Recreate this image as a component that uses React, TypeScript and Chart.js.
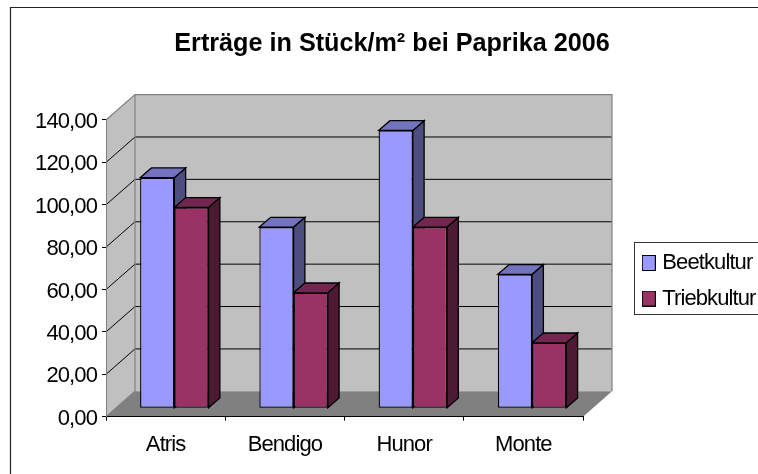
import React, { useEffect, useRef } from "react";
import { Chart, registerables } from "chart.js";

Chart.register(...registerables);

const categories = ["Atris", "Bendigo", "Hunor", "Monte"];
const seriesNames = ["Beetkultur", "Triebkultur"];
const beetkultur = [108.8, 85.5, 131.1, 63.2];
const triebkultur = [94.8, 54.5, 85.5, 30.9];
const yTicks = [0, 20, 40, 60, 80, 100, 120, 140];

const FONT = "'Liberation Sans', Arial, sans-serif";
const WALL_DX = 29;
const WALL_DY = -25.4;
const BAR_SHIFT_X = 8.7;
const BAR_SHIFT_Y = -8.4;
const BAR_DX = 11.3;
const BAR_DY = -9.8;
const fronts = ["#9999FF", "#993366"];
const faces = [
  { top: "#7373BF", side: "#4D4D80" },
  { top: "#732650", side: "#4D1A33" },
];

function poly(ctx: CanvasRenderingContext2D, pts: number[][], fill: string | null, stroke: string | null, lw = 1) {
  ctx.beginPath();
  pts.forEach((p, i) => (i ? ctx.lineTo(p[0], p[1]) : ctx.moveTo(p[0], p[1])));
  ctx.closePath();
  if (fill) {
    ctx.fillStyle = fill;
    ctx.fill();
  }
  if (stroke) {
    ctx.strokeStyle = stroke;
    ctx.lineWidth = lw;
    ctx.stroke();
  }
}

function swatch(color: string) {
  const c = document.createElement("canvas");
  c.width = 14;
  c.height = 16;
  const x = c.getContext("2d") as CanvasRenderingContext2D;
  x.fillStyle = color;
  x.fillRect(0.5, 0.5, 13, 15);
  x.strokeStyle = "#000";
  x.lineWidth = 1;
  x.strokeRect(0.5, 0.5, 13, 15);
  return c;
}

const scene3d = {
  id: "scene3d",
  afterLayout(chart: any) {
    const lg = chart.legend;
    lg.left = 632.8;
    lg.right = 790;
    lg.top = 238.5;
    lg.bottom = 474;
    const tb = chart.titleBlock;
    tb.left = 26;
    tb.right = 758;
    if (!tb.__wrapped) {
      tb.__wrapped = true;
      const draw = tb.draw.bind(tb);
      tb.draw = (...a: any[]) => {
        const ctx: any = chart.ctx;
        const prev = ctx.letterSpacing;
        ctx.letterSpacing = "0px";
        draw(...a);
        ctx.letterSpacing = prev;
      };
    }
  },
  beforeDraw(chart: any) {
    const ctx: any = chart.ctx;
    const { left, right, top, bottom } = chart.chartArea;
    const y = chart.scales.y;
    ctx.letterSpacing = "-0.9px";
    ctx.save();
    ctx.fillStyle = "#fff";
    ctx.fillRect(0, 0, chart.width, chart.height);
    // outer frame
    ctx.strokeStyle = "#222";
    ctx.lineWidth = 1.2;
    ctx.beginPath();
    ctx.moveTo(10.5, 474);
    ctx.lineTo(10.5, 7.5);
    ctx.lineTo(758, 7.5);
    ctx.stroke();
    // walls
    const dx = WALL_DX, dy = WALL_DY;
    poly(ctx, [[left + dx, top + dy], [right + dx, top + dy], [right + dx, bottom + dy], [left + dx, bottom + dy]], "#C0C0C0", null);
    poly(ctx, [[left, top], [left + dx, top + dy], [left + dx, bottom + dy], [left, bottom]], "#C0C0C0", null);
    poly(ctx, [[left, bottom], [left + dx, bottom + dy], [right + dx, bottom + dy], [right, bottom]], "#808080", null);
    // grid lines through the value scale
    yTicks.forEach((v) => {
      if (v === 0 || v === 140) return;
      const py = y.getPixelForValue(v);
      ctx.strokeStyle = "#000";
      ctx.lineWidth = 1;
      ctx.beginPath();
      ctx.moveTo(left, py);
      ctx.lineTo(left + dx, py + dy);
      ctx.lineTo(right + dx, py + dy);
      ctx.stroke();
    });
    // wall outlines
    ctx.strokeStyle = "#808080";
    ctx.lineWidth = 1.2;
    ctx.beginPath();
    ctx.moveTo(left, top);
    ctx.lineTo(left + dx, top + dy);
    ctx.lineTo(right + dx, top + dy);
    ctx.lineTo(right + dx, bottom + dy);
    ctx.moveTo(left + dx, top + dy);
    ctx.lineTo(left + dx, bottom + dy);
    ctx.lineTo(left, bottom);
    ctx.stroke();
    // legend frame
    ctx.fillStyle = "#fff";
    ctx.fillRect(634.5, 242.5, 130, 72);
    ctx.strokeStyle = "#333";
    ctx.lineWidth = 1;
    ctx.strokeRect(634.5, 242.5, 130, 72);
    ctx.restore();
  },
  beforeDatasetsDraw(chart: any) {
    const ctx: CanvasRenderingContext2D = chart.ctx;
    ctx.save();
    ctx.translate(BAR_SHIFT_X, BAR_SHIFT_Y);
    categories.forEach((_, i) => {
      chart.data.datasets.forEach((_d: any, di: number) => {
        const bar = chart.getDatasetMeta(di).data[i];
        const l = bar.x - bar.width / 2;
        const r = bar.x + bar.width / 2;
        const t = bar.y;
        const b = bar.base;
        poly(ctx, [[r, t], [r + BAR_DX, t + BAR_DY], [r + BAR_DX, b + BAR_DY], [r, b]], faces[di].side, "#000", 1.3);
        poly(ctx, [[l, t], [l + BAR_DX, t + BAR_DY], [r + BAR_DX, t + BAR_DY], [r, t]], faces[di].top, "#000", 1.3);
      });
    });
  },
  afterDatasetsDraw(chart: any) {
    chart.ctx.restore();
  },
};

export default function App() {
  const ref = useRef<HTMLCanvasElement>(null);
  useEffect(() => {
    const chart = new Chart(ref.current as HTMLCanvasElement, {
      type: "bar",
      data: {
        labels: categories,
        datasets: [
          { label: seriesNames[0], data: beetkultur, backgroundColor: fronts[0] },
          { label: seriesNames[1], data: triebkultur, backgroundColor: fronts[1] },
        ].map((d) => ({ ...d, borderColor: "#000", borderWidth: 1.3, borderSkipped: false, clip: false as any })),
      },
      plugins: [scene3d],
      options: {
        animation: false,
        responsive: false,
        events: [],
        layout: { autoPadding: false, padding: { left: 0, right: 175, top: 0, bottom: 0 } },
        datasets: { bar: { categoryPercentage: 0.574, barPercentage: 1 } },
        plugins: {
          tooltip: { enabled: false },
          title: {
            display: true,
            text: "Erträge in Stück/m² bei Paprika 2006",
            color: "#000",
            font: { family: FONT, size: 25.2, weight: "bold", lineHeight: 1.2 },
            padding: { top: 29, bottom: 60.76 },
          },
          legend: {
            position: "chartArea",
            align: "start",
            labels: {
              usePointStyle: true,
              pointStyleWidth: 5,
              padding: 13.5,
              color: "#000",
              font: { family: FONT, size: 22 },
              generateLabels: (c: any) =>
                c.data.datasets.map((d: any, i: number) => ({
                  text: d.label,
                  datasetIndex: i,
                  fontColor: "#000",
                  pointStyle: swatch(fronts[i]),
                  hidden: false,
                })),
            },
          },
        },
        scales: {
          x: {
            afterFit: (s: any) => { s.height = 57.3; },
            grid: { display: true, offset: true, drawOnChartArea: false, drawTicks: true, tickLength: 4, color: "#000" },
            border: { display: true, color: "#000", width: 1 },
            ticks: { color: "#000", padding: 11, maxRotation: 0, autoSkip: false, font: { family: FONT, size: 22 } },
          },
          y: {
            min: 0,
            max: 140,
            afterFit: (s: any) => { s.width = 106; },
            afterBuildTicks: (s: any) => { s.ticks = yTicks.map((value) => ({ value })); },
            grid: { display: true, drawOnChartArea: false, drawTicks: true, tickLength: 4, color: "#000" },
            border: { display: true, color: "#808080", width: 1 },
            ticks: {
              color: "#000",
              padding: 5,
              autoSkip: false,
              labelOffset: 2,
              font: { family: FONT, size: 22 },
              callback: (v: any) => Number(v).toFixed(2).replace(".", ","),
            },
          },
        },
      } as any,
    });
    return () => chart.destroy();
  }, []);
  return (
    <div style={{ position: "fixed", left: 0, top: 0, width: 758, height: 474, overflow: "hidden", background: "#fff" }}>
      <canvas ref={ref} width={758} height={474} style={{ display: "block" }} />
    </div>
  );
}
